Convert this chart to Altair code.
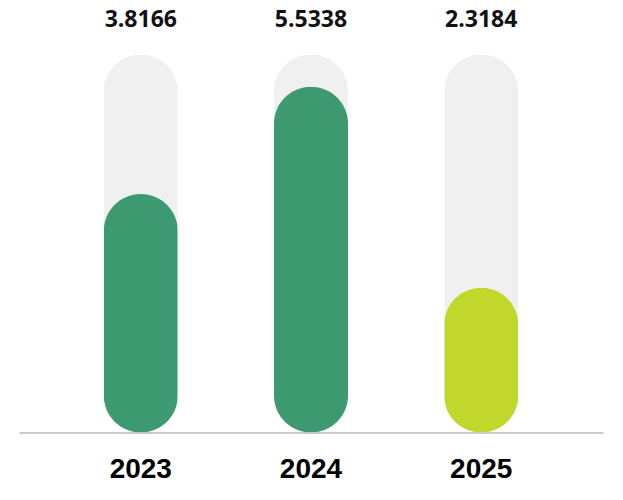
import altair as alt
import pandas as pd

years = ["2023", "2024", "2025"]
values = [3.8166, 5.5338, 2.3184]
track_max = [6.05, 6.05, 6.05]
colors = ["#3D9970", "#3D9970", "#C2D72C"]
labels = ["3.8166", "5.5338", "2.3184"]
label_pos = [6.49, 6.49, 6.49]

df = pd.DataFrame({"year": years, "value": values, "track": track_max,
                   "color": colors, "label": labels, "lpos": label_pos})

x = alt.X("year:N", sort=years,
          scale=alt.Scale(paddingInner=0, paddingOuter=0.2155),
          axis=alt.Axis(title=None, ticks=False, grid=False, labelAngle=0,
                        domainColor="#C9CCC3", domainWidth=2,
                        labelFont="Liberation Sans", labelFontWeight="bold",
                        labelFontSize=28, labelColor="#000000",
                        labelBaseline="alphabetic", labelPadding=45))
yscale = alt.Scale(domain=[0, 6.77], nice=False, zero=True)

base = alt.Chart(df)

track = base.mark_bar(size=74, cornerRadius=37, color="#F0F0F0").encode(
    x=x, y=alt.Y("track:Q", scale=yscale, axis=None))

bars = base.mark_bar(size=74, cornerRadius=37).encode(
    x=x, y=alt.Y("value:Q", scale=yscale, axis=None),
    color=alt.Color("color:N", scale=None))

text = base.mark_text(font="Open Sans", fontWeight="bold", fontSize=23,
                      baseline="alphabetic", color="#111111").encode(
    x=x, y=alt.Y("lpos:Q", scale=yscale, axis=None), text="label:N")

chart = alt.layer(track, bars, text).properties(
    width=584, height=423,
    background="#FFFFFF",
    autosize=alt.AutoSizeParams(type="none"),
    padding={"left": 11, "top": 1.5, "right": 10, "bottom": 58},
).configure_view(strokeWidth=0, stroke=None)

chart.save("out.html", embed_options={"renderer": "svg", "actions": False})
